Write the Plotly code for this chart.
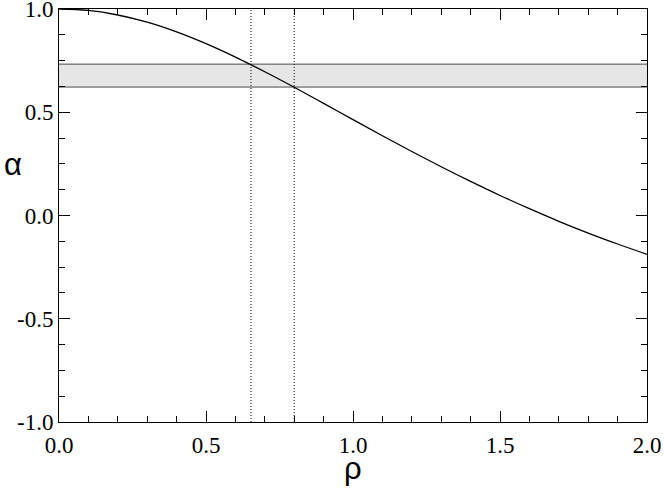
import plotly.graph_objects as go

# Data
rho = [0.0, 0.1, 0.2, 0.3, 0.4, 0.5, 0.6, 0.7, 0.8, 0.9, 1.0,
       1.1, 1.2, 1.3, 1.4, 1.5, 1.6, 1.7, 1.8, 1.9, 2.0]
alpha = [1.000, 0.993, 0.971, 0.936, 0.889, 0.832, 0.767, 0.696, 0.621, 0.543, 0.464,
         0.386, 0.310, 0.236, 0.165, 0.097, 0.033, -0.028, -0.085, -0.138, -0.188]
band_low = 0.622
band_high = 0.733
band_x = [0.0, 2.0]
vlines_x = [0.653, 0.80]
vline_y = [-1.0, 1.0]
x_tickvals = [0.0, 0.5, 1.0, 1.5, 2.0]
x_ticktext = ["0.0", "0.5", "1.0", "1.5", "2.0"]
y_tickvals = [-1.0, -0.5, 0.0, 0.5, 1.0]
y_ticktext = ["-1.0", "-0.5", "0.0", "0.5", "1.0"]

fig = go.Figure()

fig.add_trace(go.Scatter(x=band_x, y=[band_low, band_low], mode="lines",
                         line=dict(color="#4a4a4a", width=1), showlegend=False))
fig.add_trace(go.Scatter(x=band_x, y=[band_high, band_high], mode="lines",
                         line=dict(color="#4a4a4a", width=1), fill="tonexty",
                         fillcolor="#e6e6e6", showlegend=False))
for xv in vlines_x:
    fig.add_trace(go.Scatter(x=[xv, xv], y=vline_y, mode="lines",
                             line=dict(color="black", width=1, dash="1px,2px"), showlegend=False))
fig.add_trace(go.Scatter(x=rho, y=alpha, mode="lines",
                         line=dict(color="black", width=1.3, shape="spline"), showlegend=False))

serif = "Liberation Serif"
tickfont = dict(family=serif, size=23, color="black")

common = dict(ticks="inside", ticklen=11, tickcolor="black", tickwidth=1, showline=True,
              linecolor="black", linewidth=1, showgrid=False, zeroline=False, automargin=False)

fig.update_layout(
    xaxis=dict(range=[0, 2], tickmode="array", tickvals=x_tickvals, ticktext=x_ticktext,
               tickfont=tickfont, ticklabeloverflow="allow", ticklabelstandoff=2,
               minor=dict(dtick=0.1, tick0=0, ticks="inside", ticklen=6, tickcolor="black", showgrid=False),
               **common),
    yaxis=dict(range=[-1, 1], tickmode="array", tickvals=y_tickvals, ticktext=y_ticktext,
               tickfont=tickfont, ticklabeloverflow="allow",
               minor=dict(dtick=0.125, tick0=-1, ticks="inside", ticklen=6, tickcolor="black", showgrid=False),
               **common),
    xaxis2=dict(range=[0, 2], overlaying="x", side="top", tickmode="array", tickvals=x_tickvals,
                showticklabels=False,
                minor=dict(dtick=0.1, tick0=0, ticks="inside", ticklen=6, tickcolor="black", showgrid=False),
                **common),
    yaxis2=dict(range=[-1, 1], overlaying="y", side="right", tickmode="array", tickvals=y_tickvals,
                showticklabels=False,
                minor=dict(dtick=0.125, tick0=-1, ticks="inside", ticklen=6, tickcolor="black", showgrid=False),
                **common),
)
# invisible trace to activate secondary axes
fig.add_trace(go.Scatter(x=band_x, y=vline_y, xaxis="x2", yaxis="y2", mode="lines",
                         line=dict(width=0), hoverinfo="skip", showlegend=False, opacity=0))

fig.add_annotation(text="ρ", xref="paper", yref="paper", x=0.5, y=-0.1123, showarrow=False,
                   xanchor="center", yanchor="middle",
                   font=dict(family="Liberation Sans", size=31, color="black"))
fig.add_annotation(text="α", xref="paper", yref="paper", x=-0.0786, y=0.6225, showarrow=False,
                   xanchor="center", yanchor="middle",
                   font=dict(family="Liberation Sans", size=31, color="black"))

fig.update_layout(width=664, height=488, margin=dict(l=58.5, r=16.7, t=9.3, b=66.3),
                  plot_bgcolor="white", paper_bgcolor="white")

fig.write_html("out.html", config={"displayModeBar": False},
               post_script="document.body.style.margin='0';document.body.style.padding='0';document.body.style.overflow='hidden';")
